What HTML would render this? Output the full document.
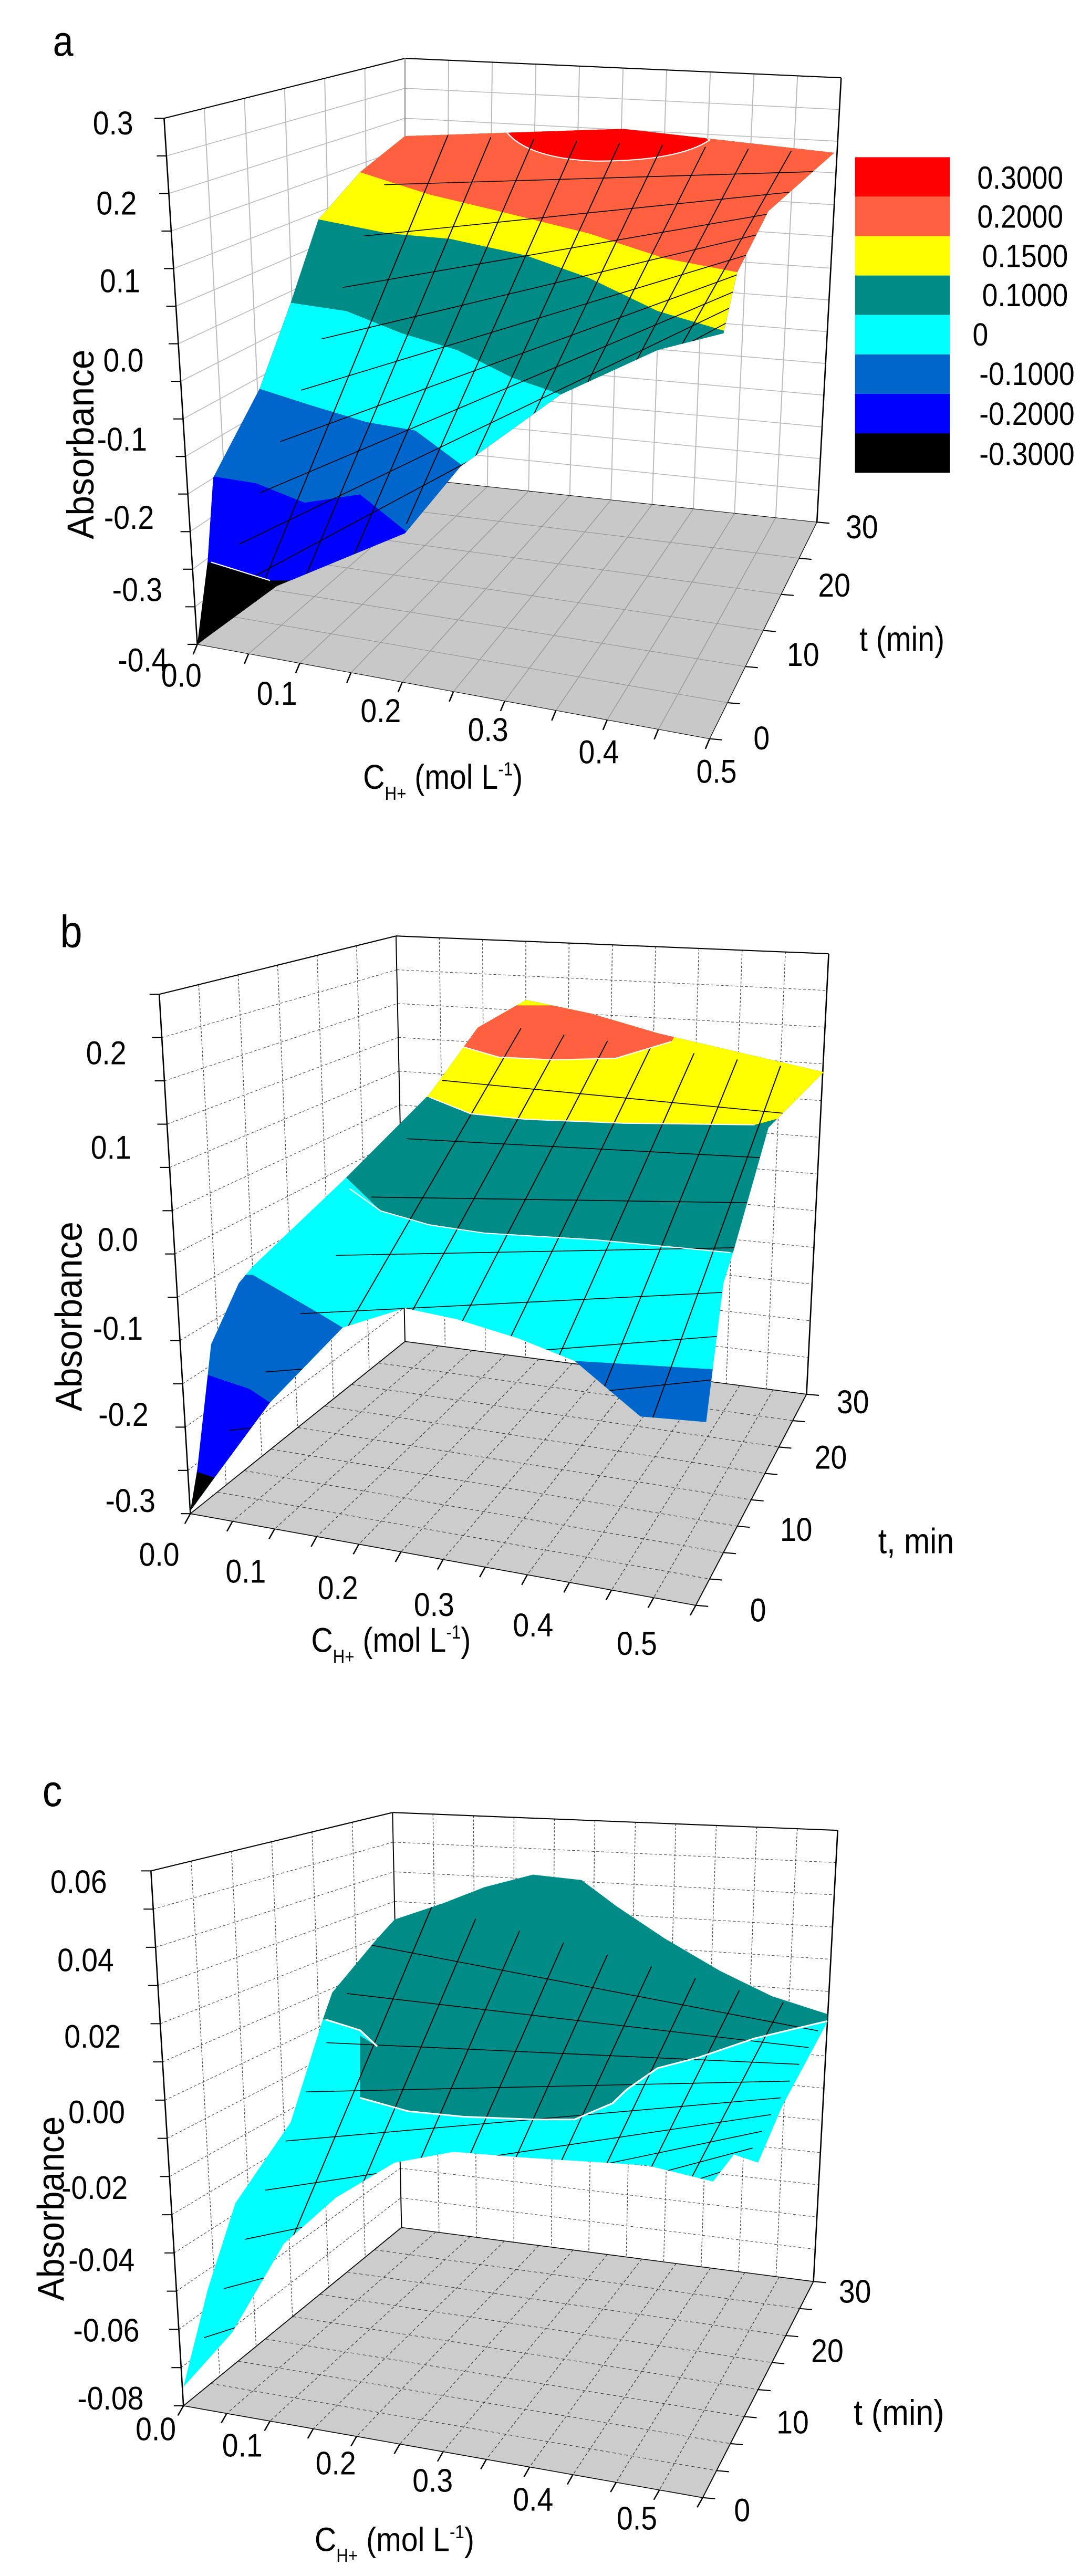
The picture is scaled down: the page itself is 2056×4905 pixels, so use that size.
<!DOCTYPE html>
<html><head><meta charset="utf-8"><style>
html,body{margin:0;padding:0;background:#fff;}
body{width:2056px;height:4905px;position:relative;overflow:hidden;}
svg{position:absolute;left:0;}
text{font-family:"Liberation Sans",Arial,sans-serif;fill:#000;}
text.s{transform-box:fill-box;transform-origin:center;transform:scaleX(0.7);}
</style></head><body>

<!-- Panel a -->
<svg id="pa" style="top:0" width="2056" height="1650" viewBox="0 0 1560 1560" preserveAspectRatio="none">
<defs><clipPath id="ca"><polygon points="285,1160 300,1010 308,860 375,700 420,545 460,395 520,310 585,245 900,232 1205,275 1110,380 1065,490 1045,600 950,630 810,710 665,840 585,960 400,1055"/></clipPath></defs>
<g id="wa"></g>
<polygon points="285,1160 1025,1330 1180,940 585,860" fill="#c8c8c8" stroke="#000" stroke-width="1"/>
<g id="fa"></g>
<g clip-path="url(#ca)">
<rect x="0" y="0" width="1560" height="1560" fill="#000"/>
<polygon points="0,1010 300,1012 390,1045 2000,1045 2000,0 0,0" fill="#0000ff"/>
<polygon points="0,858 310,858 370,870 440,905 520,890 590,960 2000,960 2000,0 0,0" fill="#0066cc"/>
<polygon points="0,700 375,700 450,730 530,760 600,775 670,840 2000,840 2000,0 0,0" fill="#00ffff"/>
<polygon points="0,545 420,545 500,560 580,600 660,630 740,680 810,710 2000,710 2000,0 0,0" fill="#008b87"/>
<polygon points="0,395 460,395 560,420 650,430 760,460 850,500 950,560 1045,595 2000,595 2000,0 0,0" fill="#ffff00"/>
<polygon points="0,310 520,310 620,350 720,380 850,420 960,465 1065,490 2000,490 2000,0 0,0" fill="#ff6040"/>
<path d="M730,235 Q760,285 860,290 Q980,290 1025,252 L1000,230 L740,228 Z" fill="#ff0000" stroke="#fff" stroke-width="2"/>
<g id="ma"></g>
</g>
<polyline points="305,1012 390,1045" fill="none" stroke="#fff" stroke-width="2"/>
<rect x="1235" y="283" width="137" height="71" fill="#ff0000"/>
<rect x="1235" y="354" width="137" height="71" fill="#ff6040"/>
<rect x="1235" y="425" width="137" height="71" fill="#ffff00"/>
<rect x="1235" y="496" width="137" height="71" fill="#008b87"/>
<rect x="1235" y="567" width="137" height="71" fill="#00ffff"/>
<rect x="1235" y="638" width="137" height="71" fill="#0066cc"/>
<rect x="1235" y="709" width="137" height="71" fill="#0000ff"/>
<rect x="1235" y="780" width="137" height="71" fill="#000"/>
<g font-size="58">
<text class="s" x="1385" y="340">0.3000</text><text class="s" x="1385" y="410">0.2000</text><text class="s" x="1392" y="481">0.1500</text><text class="s" x="1392" y="551">0.1000</text><text class="s" x="1400" y="622">0</text><text class="s" x="1385" y="693">-0.1000</text><text class="s" x="1385" y="765">-0.2000</text><text class="s" x="1385" y="837">-0.3000</text>
</g>
<text class="s" x="70" y="100" font-size="76">a</text>
<g font-size="60" text-anchor="end">
<text class="s" x="205" y="242">0.3</text><text class="s" x="210" y="386">0.2</text><text class="s" x="215" y="526">0.1</text><text class="s" x="220" y="669">0.0</text><text class="s" x="228" y="811">-0.1</text><text class="s" x="238" y="952">-0.2</text><text class="s" x="250" y="1082">-0.3</text><text class="s" x="258" y="1209">-0.4</text>
</g>
<g font-size="60" text-anchor="middle">
<text class="s" x="262" y="1236">0.0</text><text class="s" x="400" y="1269">0.1</text><text class="s" x="550" y="1300">0.2</text><text class="s" x="705" y="1334">0.3</text><text class="s" x="865" y="1374">0.4</text><text class="s" x="1035" y="1409">0.5</text>
<text class="s" x="1245" y="969">30</text><text class="s" x="1205" y="1074">20</text><text class="s" x="1160" y="1199">10</text><text class="s" x="1100" y="1349">0</text>
</g>
<text class="s" x="1215" y="1172" font-size="62">t (min)</text>
<text transform="translate(135,800) scale(0.85,1) rotate(-90)" font-size="64" text-anchor="middle">Absorbance</text>
<text class="s" x="475" y="1420" font-size="62">C<tspan font-size="34" dy="20">H+</tspan><tspan dy="-20"> (mol L</tspan><tspan font-size="34" dy="-24">-1</tspan><tspan dy="24">)</tspan></text>
</svg>

<!-- Panel b -->
<svg id="pb" style="top:1650px" width="2056" height="1650" viewBox="0 0 1560 1560" preserveAspectRatio="none">
<defs><clipPath id="cb"><polygon points="275,1160 285,1085 305,860 345,750 365,720 500,560 620,410 690,290 760,240 855,265 950,300 1190,370 1110,470 1060,690 1045,750 1020,1000 925,990 830,890 750,850 660,815 585,795 495,830 390,965 310,1100"/></clipPath></defs>
<g id="wb"></g>
<polygon points="275,1165 1005,1330 1165,950 585,855" fill="#cccccc" stroke="#000" stroke-width="1.5"/>
<g id="fb"></g>
<g clip-path="url(#cb)">
<rect x="0" y="0" width="1560" height="1560" fill="#00ffff"/>
<polygon points="0,1252 0,1085 285,1085 310,1100 310,1252" fill="#000"/>
<polygon points="0,1090 285,1090 310,1100 400,960 360,940 300,915 0,915" fill="#0000ff"/>
<polygon points="0,915 300,915 360,940 390,965 495,830 455,800 365,735 0,735" fill="#0066cc"/>
<polygon points="830,890 1030,905 1030,1010 920,1000" fill="#0066cc"/>
<polygon points="0,560 500,560 550,620 620,645 700,660 860,672 1060,695 2000,695 2000,0 0,0" fill="#008b87"/>
<polygon points="0,415 620,415 680,445 760,455 900,462 1090,465 1120,455 2000,455 2000,0 0,0" fill="#ffff00"/>
<polygon points="0,325 670,325 720,343 800,348 890,345 970,315 1000,250 0,250" fill="#ff6040"/>
<g id="mb"></g>
</g>
<polyline points="505,580 550,620 620,645 700,660 860,672 1055,695" fill="none" stroke="#fff" stroke-width="2"/>
<polyline points="620,415 680,445 760,455 900,462 1090,465" fill="none" stroke="#fff" stroke-width="2"/>
<polyline points="670,325 720,343 800,348 890,345 970,315" fill="none" stroke="#fff" stroke-width="2"/>
<text class="s" x="80" y="145" font-size="82">b</text>
<g font-size="60" text-anchor="end">
<text class="s" x="195" y="356">0.2</text><text class="s" x="202" y="526">0.1</text><text class="s" x="212" y="692">0.0</text><text class="s" x="222" y="852">-0.1</text><text class="s" x="230" y="1007">-0.2</text><text class="s" x="240" y="1162">-0.3</text>
</g>
<g font-size="60" text-anchor="middle">
<text class="s" x="230" y="1259">0.0</text><text class="s" x="355" y="1289">0.1</text><text class="s" x="488" y="1319">0.2</text><text class="s" x="627" y="1349">0.3</text><text class="s" x="770" y="1386">0.4</text><text class="s" x="920" y="1419">0.5</text>
<text class="s" x="1232" y="984">30</text><text class="s" x="1200" y="1084">20</text><text class="s" x="1150" y="1214">10</text><text class="s" x="1095" y="1359">0</text>
</g>
<text class="s" x="1245" y="1236" font-size="64">t, min</text>
<text transform="translate(118,810) scale(0.85,1) rotate(-90)" font-size="64" text-anchor="middle">Absorbance</text>
<text class="s" x="400" y="1414" font-size="62">C<tspan font-size="34" dy="20">H+</tspan><tspan dy="-20"> (mol L</tspan><tspan font-size="34" dy="-24">-1</tspan><tspan dy="24">)</tspan></text>
</svg>

<!-- Panel c -->
<svg id="pc" style="top:3300px" width="2056" height="1605" viewBox="0 0 1560 1560" preserveAspectRatio="none">
<defs><clipPath id="cc"><polygon points="265,1210 300,1030 340,870 420,720 465,535 480,480 545,380 570,345 640,315 700,285 770,262 840,272 890,320 960,380 1040,440 1115,487 1195,520 1195,535 1130,690 1095,795 1060,780 1030,830 935,800 750,785 655,775 570,795 485,860 410,945 335,1110"/></clipPath></defs>
<g id="wc"></g>
<polygon points="265,1245 1015,1415 1175,1015 580,915" fill="#cccccc" stroke="#000" stroke-width="1.5"/>
<g id="fc"></g>
<g clip-path="url(#cc)">
<rect x="0" y="0" width="1560" height="1560" fill="#00ffff"/>
<polygon points="400,480 480,480 545,380 570,345 640,315 700,285 770,262 840,272 890,320 960,380 1040,440 1115,487 1195,520 1200,533 1090,565 1010,600 950,620 905,660 885,685 830,715 770,715 670,710 590,700 520,675 520,560 545,580 520,550 470,530 400,530" fill="#008b87"/>
<g id="mc"></g>
</g>
<polyline points="470,530 520,550 545,580" fill="none" stroke="#fff" stroke-width="3"/>
<polyline points="520,675 590,700 670,710 770,715 830,715 885,685 905,660 950,620 1010,600 1090,565 1195,533" fill="none" stroke="#fff" stroke-width="3"/>
<text class="s" x="55" y="135" font-size="82">c</text>
<g font-size="60" text-anchor="end">
<text class="s" x="172" y="296">0.06</text><text class="s" x="182" y="441">0.04</text><text class="s" x="192" y="582">0.02</text><text class="s" x="198" y="722">0.00</text><text class="s" x="205" y="862">-0.02</text><text class="s" x="215" y="996">-0.04</text><text class="s" x="222" y="1126">-0.06</text><text class="s" x="228" y="1252">-0.08</text>
</g>
<g font-size="60" text-anchor="middle">
<text class="s" x="225" y="1309">0.0</text><text class="s" x="350" y="1339">0.1</text><text class="s" x="485" y="1372">0.2</text><text class="s" x="625" y="1404">0.3</text><text class="s" x="770" y="1439">0.4</text><text class="s" x="920" y="1474">0.5</text>
<text class="s" x="1235" y="1054">30</text><text class="s" x="1195" y="1164">20</text><text class="s" x="1145" y="1296">10</text><text class="s" x="1072" y="1459">0</text>
</g>
<text class="s" x="1205" y="1280" font-size="66">t (min)</text>
<text transform="translate(92,880) scale(0.85,1) rotate(-90)" font-size="64" text-anchor="middle">Absorbance</text>
<text class="s" x="405" y="1514" font-size="62">C<tspan font-size="34" dy="20">H+</tspan><tspan dy="-20"> (mol L</tspan><tspan font-size="34" dy="-24">-1</tspan><tspan dy="24">)</tspan></text>
</svg>

<script>
var NS="http://www.w3.org/2000/svg";
function L(g,a,b,st,w,d){var l=document.createElementNS(NS,"line");l.setAttribute("x1",a[0]);l.setAttribute("y1",a[1]);l.setAttribute("x2",b[0]);l.setAttribute("y2",b[1]);l.setAttribute("stroke",st);l.setAttribute("stroke-width",w);if(d)l.setAttribute("stroke-dasharray",d);g.appendChild(l);}
function lp(a,b,t){return [a[0]+(b[0]-a[0])*t,a[1]+(b[1]-a[1])*t];}
function quad(id,A,B,C,D,nu,nv,st,w,d){var g=document.getElementById(id);
for(var i=1;i<nu;i++){var u=i/nu;L(g,lp(A,B,u),lp(D,C,u),st,w,d);}
for(var j=1;j<nv;j++){var v=j/nv;L(g,lp(A,D,v),lp(B,C,v),st,w,d);}}
function frame(id,pts,w){var g=document.getElementById(id);for(var i=0;i<pts.length-1;i++)L(g,pts[i],pts[i+1],"#000",w);}
function ticks(id,A,B,n,dx,dy){var g=document.getElementById(id);for(var i=0;i<=n;i++){var p=lp(A,B,i/n);L(g,p,[p[0]+dx,p[1]+dy],"#000",2);}}
quad("wa",[237,213],[585,105],[585,860],[285,1160],6,14,"#bbb",1.5);
quad("wa",[585,105],[1215,140],[1180,940],[585,860],10,14,"#bbb",1.5);
frame("wa",[[285,1160],[237,213],[585,105],[1215,140],[1180,940]],2);
L(document.getElementById("wa"),[585,105],[585,860],"#888",1.5);
quad("fa",[585,860],[1180,940],[1025,1330],[285,1160],10,6,"#999",1.2);
ticks("wa",[237,213],[285,1160],14,-14,0);
ticks("fa",[285,1160],[1025,1330],10,-6,18);
ticks("fa",[1025,1330],[1180,940],6,18,2);
quad("ma",[585,240],[1205,275],[1040,610],[285,1165],10,10,"#000",1.5);
quad("wb",[230,230],[572,125],[585,855],[275,1165],6,12,"#444",1,"4,3");
quad("wb",[572,125],[1197,157],[1165,950],[585,855],10,12,"#444",1,"4,3");
frame("wb",[[275,1165],[230,230],[572,125],[1197,157],[1165,950]],2);
L(document.getElementById("wb"),[572,125],[585,855],"#000",1.5);
quad("fb",[585,855],[1165,950],[1005,1330],[275,1165],12,8,"#333",1,"5,4");
ticks("wb",[230,230],[275,1165],12,-14,0);
ticks("fb",[275,1165],[1005,1330],12,-8,18);
ticks("fb",[1005,1330],[1165,950],8,18,2);
quad("mb",[690,280],[1190,370],[1030,1000],[280,1120],8,8,"#000",1.5);
quad("wc",[218,255],[567,147],[580,915],[265,1245],6,14,"#444",1,"4,3");
quad("wc",[567,147],[1210,180],[1175,1015],[580,915],11,14,"#444",1,"4,3");
frame("wc",[[265,1245],[218,255],[567,147],[1210,180],[1175,1015]],2);
L(document.getElementById("wc"),[567,147],[580,915],"#000",1.5);
quad("fc",[580,915],[1175,1015],[1015,1415],[265,1245],12,8,"#333",1,"5,4");
ticks("wc",[218,255],[265,1245],14,-14,0);
ticks("fc",[265,1245],[1015,1415],12,-8,18);
ticks("fc",[1015,1415],[1175,1015],8,18,2);
quad("mc",[560,300],[1195,520],[1060,830],[265,1210],10,10,"#000",1.5);
</script>
</body></html>
